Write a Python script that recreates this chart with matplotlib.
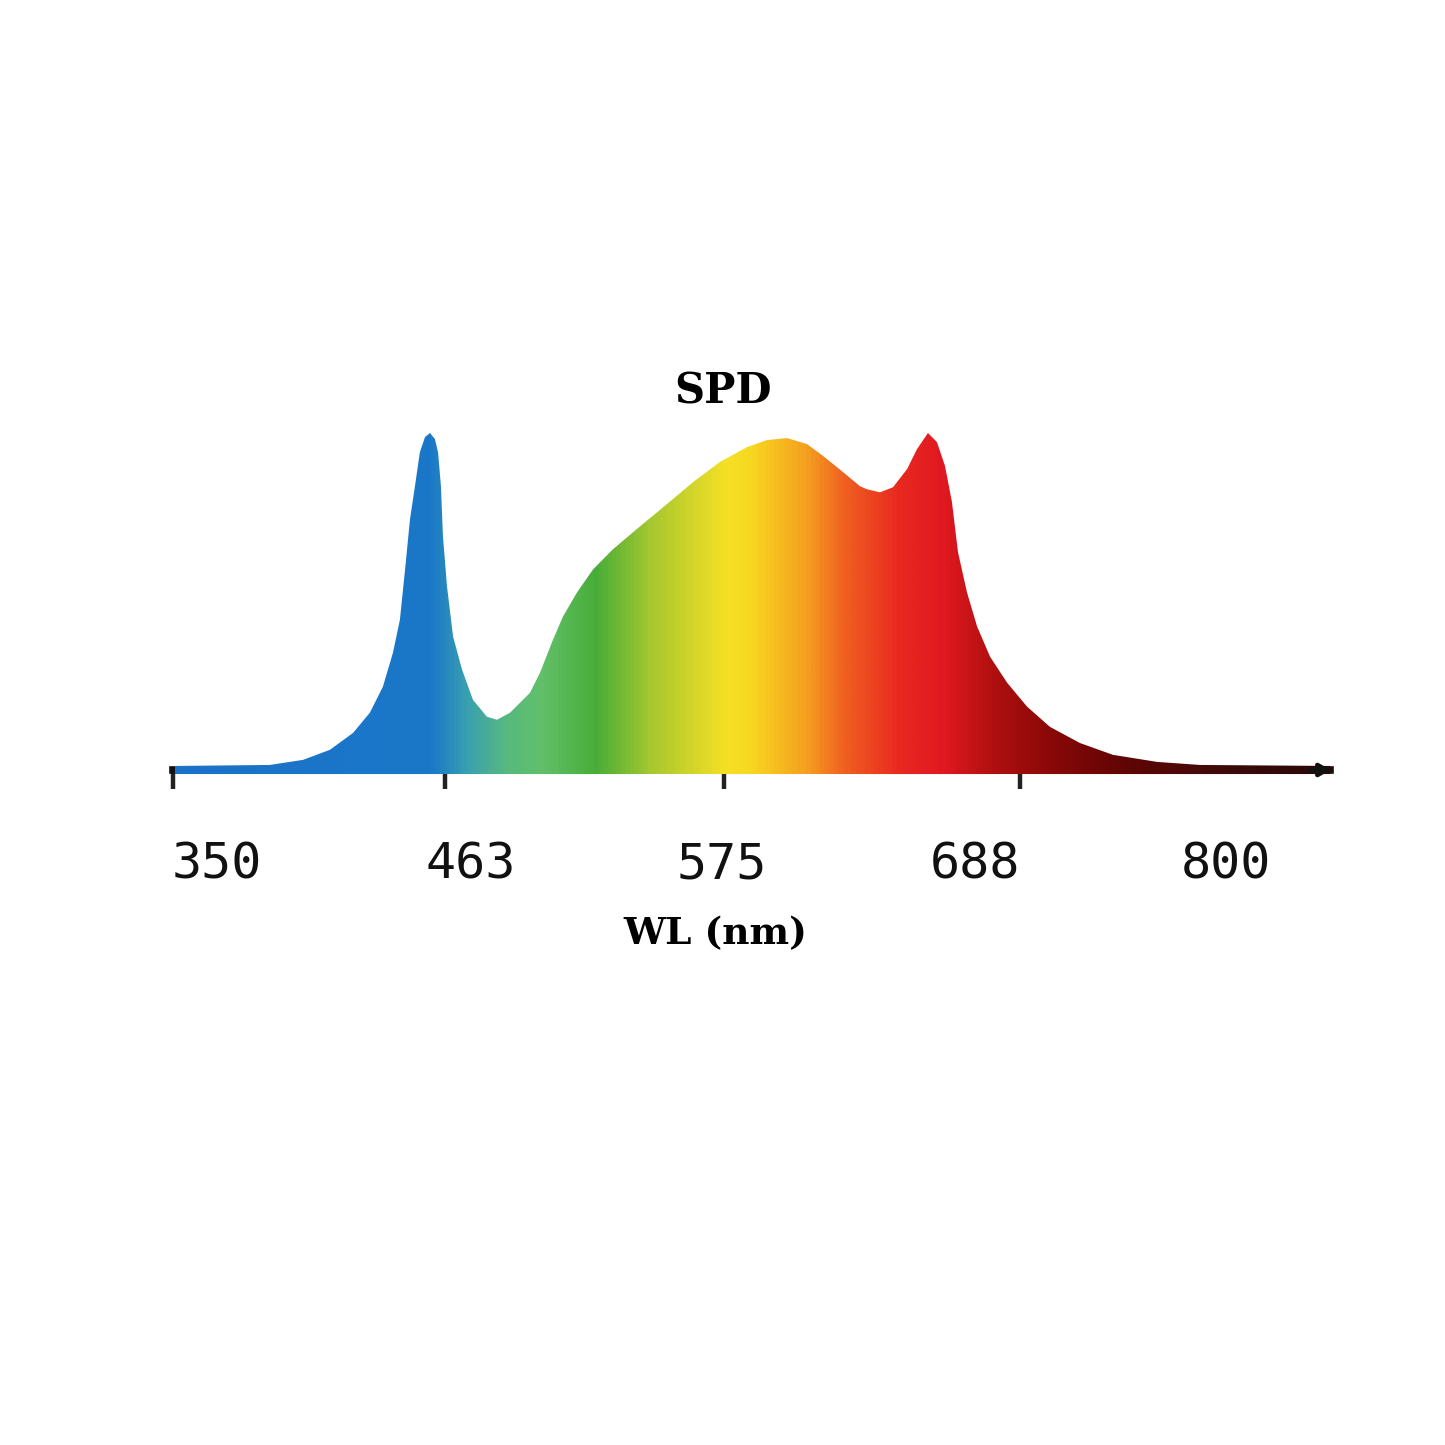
import numpy as np
import matplotlib
matplotlib.use("Agg")
import matplotlib.pyplot as plt
from matplotlib.colors import LinearSegmentedColormap
from matplotlib.patches import Polygon

# ---- data ----
wavelength = [331.3, 373.6, 388.4, 400.4, 410.7, 418.2, 424.0, 428.5, 431.6, 433.9,
              436.1, 438.3, 440.5, 442.8, 445.0, 447.2, 448.6, 449.9, 450.8, 452.6,
              455.3, 459.3, 464.2, 470.4, 474.9, 480.7, 485.1, 489.6, 494.1, 499.9,
              504.3, 510.6, 517.7, 526.6, 538.7, 550.7, 562.3, 574.3, 586.4, 595.3,
              604.2, 613.2, 620.3, 629.2, 636.8, 639.9, 645.7, 651.5, 657.8, 662.2,
              667.1, 671.1, 674.7, 677.8, 680.5, 684.5, 689.0, 694.8, 702.4, 711.3,
              721.5, 734.9, 749.6, 769.3, 788.4, 846.4]
intensity = [0.012, 0.015, 0.030, 0.060, 0.110, 0.170, 0.247, 0.348, 0.446, 0.595,
             0.744, 0.842, 0.943, 0.988, 1.000, 0.982, 0.943, 0.842, 0.693, 0.545,
             0.396, 0.298, 0.208, 0.158, 0.149, 0.170, 0.199, 0.229, 0.289, 0.387,
             0.455, 0.527, 0.595, 0.655, 0.723, 0.789, 0.854, 0.914, 0.958, 0.979,
             0.985, 0.967, 0.932, 0.884, 0.842, 0.833, 0.824, 0.839, 0.893, 0.952,
             1.000, 0.973, 0.902, 0.795, 0.646, 0.527, 0.426, 0.336, 0.259, 0.188,
             0.128, 0.080, 0.045, 0.024, 0.015, 0.012]
tick_labels = ["350", "463", "575", "688", "800"]
tick_values = [350, 463, 575, 688, 800]
tick_marks = [451.7, 576.1, 708.1]

# spectrum colour stops (wavelength, colour)
color_wl = [330.4, 444.6, 461.1, 477.6, 494.1, 518.6, 543.6, 576.6, 587.7,
            612.7, 629.7, 654.6, 674.7, 696.6, 722.0, 755.4, 805.8, 846.4]
color_hex = ["#1c72c8", "#1a78c8", "#3aa0b0", "#55b880", "#62c06a", "#48ad38",
             "#a8c830", "#f5e025", "#f8d820", "#f5a020", "#f06020", "#e82820",
             "#e01820", "#b01010", "#8a0808", "#600505", "#3a0a0a", "#2a0808"]

xmin, xmax = 330.4, 846.4
base = -0.012

W = H = 1445
fig = plt.figure(figsize=(W / 100, H / 100), dpi=100)
fig.patch.set_facecolor("white")
px_per_unit = 337.0
ax_left = 173 / W
ax_width = (1330 - 173) / W
y0, y1 = -0.03, 1.05
ax_bottom = (H - (770 + (-y0) * px_per_unit)) / H
ax_height = (y1 - y0) * px_per_unit / H
ax = fig.add_axes([ax_left, ax_bottom, ax_width, ax_height])
ax.set_xlim(xmin, xmax)
ax.set_ylim(y0, y1)

# filled spectrum
wl = np.array(wavelength)
it = np.array(intensity)
verts = np.column_stack([np.r_[wl[0], wl, wl[-1]], np.r_[base, it, base]])
poly = Polygon(verts, closed=True, facecolor="none", edgecolor="none", zorder=3)
ax.add_patch(poly)

span = xmax - xmin
pos = [(c - xmin) / span for c in color_wl]
cmap = LinearSegmentedColormap.from_list("spec", list(zip(pos, color_hex)))
grad = np.linspace(0, 1, 1200).reshape(1, -1)
im = ax.imshow(grad, cmap=cmap, aspect="auto", extent=[xmin, xmax, base - 0.01, 1.02],
               origin="lower", zorder=3, interpolation="bilinear")
im.set_clip_path(poly)

# axis styling
for s in ["top", "left", "right"]:
    ax.spines[s].set_visible(False)
ax.spines["bottom"].set_position(("data", 0))
ax.spines["bottom"].set_linewidth(5.5)
ax.spines["bottom"].set_color("#111111")
ax.set_yticks([])
ax.set_facecolor("none")

ax.set_xticks(tick_values)
ax.set_xticklabels(tick_labels, fontfamily="DejaVu Sans Mono", fontsize=36)
ax.tick_params(axis="x", which="major", length=0, pad=51, colors="#111111")
ax.set_xticks([xmin] + tick_marks, minor=True)
ax.tick_params(axis="x", which="minor", length=14, width=3.2, direction="out",
               color="#222222")

# arrow at the end of the axis
ax.annotate("", xy=(xmax + 1.5, 0), xytext=(xmax - 10, 0),
            arrowprops=dict(arrowstyle="->,head_length=0.6,head_width=0.35",
                            color="#111111", lw=3.5), zorder=4,
            annotation_clip=False)

ax.set_title("SPD", fontfamily="DejaVu Serif", fontweight="bold", fontsize=30,
             x=0.475, pad=9)
ax.set_xlabel("WL (nm)", fontfamily="DejaVu Serif", fontweight="bold", fontsize=27)
ax.xaxis.set_label_coords(0.469, -0.37)

fig.savefig("out.png", dpi=100, facecolor="white")
